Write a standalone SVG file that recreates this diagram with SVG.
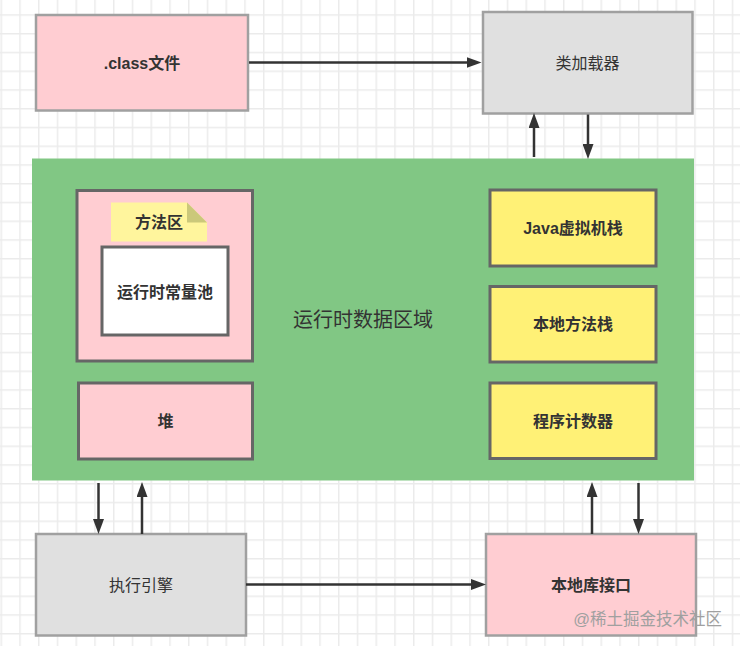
<svg xmlns="http://www.w3.org/2000/svg" width="740" height="646" viewBox="0 0 740 646">
<defs>
<pattern id="grid" x="0.5" y="14.25" width="18.75" height="18.75" patternUnits="userSpaceOnUse">
<path d="M0.75 0 V18.75 M0 0.75 H18.75" stroke="#ebebeb" stroke-width="1.5" fill="none"/>
</pattern>
<marker id="arr" viewBox="0 0 15 11" refX="5" refY="5.5" markerWidth="15" markerHeight="11" markerUnits="userSpaceOnUse" orient="auto">
<path d="M0,0 L15,5.5 L0,11 Z" fill="#333"/>
</marker>
<style>
text{font-family:"Liberation Sans","Noto Sans CJK SC",sans-serif;fill:#333;text-anchor:middle;dominant-baseline:central;font-size:16px}
.b{font-weight:bold}
.outer{stroke:#a0a0a0;stroke-width:2.5}
.inner{stroke:#666;stroke-width:3}
.pink{fill:#ffcdd2}
.grey{fill:#e0e0e0}
.yel{fill:#fff176}
.conn line{stroke:#333;stroke-width:2.5;marker-end:url(#arr)}
</style>
</defs>
<rect width="740" height="646" fill="#fff"/>
<rect width="740" height="646" fill="url(#grid)"/>

<g id="runtime-area">
<rect x="32" y="158.5" width="662" height="322" fill="#81c784"/>
<text x="363" y="320" style="font-size:20px">运行时数据区域</text>
</g>

<g id="class-file">
<rect x="36" y="15" width="212" height="95.5" class="pink outer"/>
<text x="142" y="63" class="b">.class文件</text>
</g>

<g id="class-loader">
<rect x="483" y="12" width="209.5" height="101.5" class="grey outer"/>
<text x="587.5" y="63">类加载器</text>
</g>

<g id="method-area">
<rect x="77" y="190.5" width="175.5" height="170.5" class="pink inner"/>
</g>

<g id="method-area-note">
<path d="M111,202.5 H187 L207,222.5 V241.5 H111 Z" fill="#fff59d"/>
<path d="M187,202.5 L207,222.5 H187 Z" fill="#cbc87a"/>
<text x="159" y="222.5" class="b">方法区</text>
</g>

<g id="constant-pool">
<rect x="102" y="247" width="126" height="88" fill="#fff" class="inner"/>
<text x="165" y="292" class="b">运行时常量池</text>
</g>

<g id="heap">
<rect x="78.5" y="383" width="174" height="76" class="pink inner"/>
<text x="165.5" y="421" class="b">堆</text>
</g>

<g id="jvm-stack">
<rect x="490" y="190" width="166" height="76" class="yel inner"/>
<text x="573" y="228" class="b">Java虚拟机栈</text>
</g>

<g id="native-stack">
<rect x="490" y="286.5" width="166" height="75.5" class="yel inner"/>
<text x="573" y="324" class="b">本地方法栈</text>
</g>

<g id="pc-register">
<rect x="490" y="383" width="166" height="75.5" class="yel inner"/>
<text x="573" y="421" class="b">程序计数器</text>
</g>

<g id="exec-engine">
<rect x="36" y="534" width="210" height="101.5" class="grey outer"/>
<text x="141" y="585">执行引擎</text>
</g>

<g id="native-interface">
<rect x="486" y="534" width="210" height="101.5" class="pink outer"/>
<text x="591" y="585" class="b">本地库接口</text>
</g>

<g id="connectors" class="conn">
<line x1="249" y1="62.5" x2="471.5" y2="62.5"/>
<line x1="534" y1="157" x2="534" y2="123"/>
<line x1="588" y1="114.5" x2="588" y2="149"/>
<line x1="98.5" y1="483" x2="98.5" y2="524"/>
<line x1="142" y1="534" x2="142" y2="492"/>
<line x1="592" y1="534" x2="592" y2="492"/>
<line x1="638.5" y1="483" x2="638.5" y2="524"/>
<line x1="246" y1="584.5" x2="476" y2="584.5"/>
</g>

<text x="722" y="619" style="text-anchor:end;fill:#a0a0a0;font-size:16.5px">@稀土掘金技术社区</text>
</svg>
